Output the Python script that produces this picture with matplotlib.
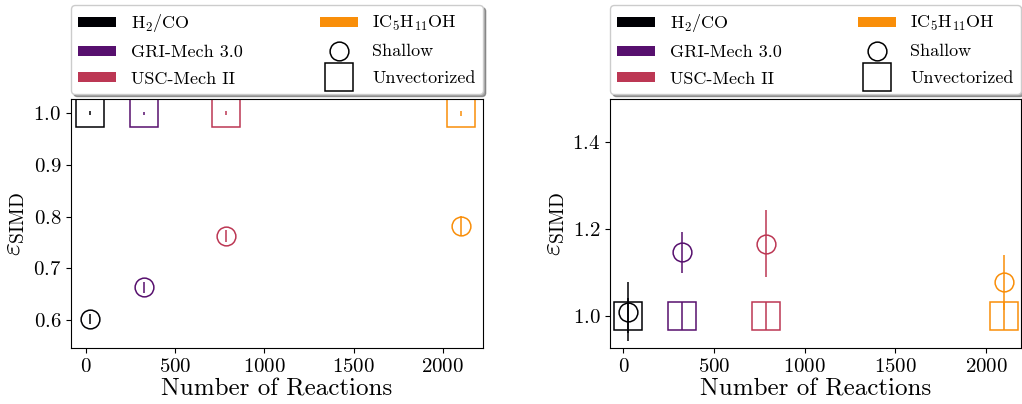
import matplotlib
matplotlib.use("Agg")
import matplotlib.pyplot as plt
from matplotlib.patches import Patch
from matplotlib.lines import Line2D

plt.rcParams['font.family'] = 'serif'
plt.rcParams['font.serif'] = ['cmr10']
plt.rcParams['mathtext.fontset'] = 'cm'
plt.rcParams['axes.formatter.use_mathtext'] = True

mechanisms = [r'H$_2$/CO', 'GRI-Mech 3.0', 'USC-Mech II', r'IC$_5$H$_{11}$OH']
colors = ['#000004', '#57106e', '#bc3754', '#f98e09']
n_reactions = [25, 325, 784, 2100]

# Left panel
left_shallow = [0.602, 0.663, 0.763, 0.782]
left_shallow_err = [0.010, 0.010, 0.012, 0.020]
left_unvec = [1.0, 1.0, 1.0, 1.0]
left_unvec_err = [0.004, 0.003, 0.004, 0.005]

# Right panel
right_shallow = [1.010, 1.146, 1.166, 1.077]
right_shallow_err = [0.067, 0.047, 0.077, 0.064]
right_unvec = [1.0, 1.0, 1.0, 1.0]
right_unvec_err = [0.040, 0.032, 0.032, 0.032]

left_yticks = [0.6, 0.7, 0.8, 0.9, 1.0]
right_yticks = [1.0, 1.2, 1.4]
xticks = [0, 500, 1000, 1500, 2000]

fig = plt.figure(figsize=(10.22, 4.04), dpi=100)
ax1 = fig.add_axes([0.0695, 0.1386, 0.403, 0.617])
ax2 = fig.add_axes([0.597, 0.1386, 0.402, 0.617])

LW = 1.1

def draw(ax, sh, she, uv, uve, ylim, yticks):
    for i in range(len(mechanisms)):
        ax.errorbar(n_reactions[i], uv[i], yerr=uve[i], fmt='s', ms=20.5,
                    mfc='none', mec=colors[i], mew=LW, ecolor=colors[i],
                    elinewidth=LW, capsize=0)
        ax.errorbar(n_reactions[i], sh[i], yerr=she[i], fmt='o', ms=13.5,
                    mfc='none', mec=colors[i], mew=LW, ecolor=colors[i],
                    elinewidth=LW, capsize=0)
    ax.set_ylim(*ylim)
    ax.set_yticks(yticks)
    ax.set_xticks(xticks)
    ax.tick_params(labelsize=15)
    ax.set_xlabel('Number of Reactions', fontsize=18, labelpad=2)
    ax.set_ylabel(r'$\varepsilon_{\mathrm{SIMD}}$', fontsize=20, labelpad=4)
    handles = [Patch(facecolor=c, edgecolor='none') for c in colors]
    handles += [Line2D([], [], ls='none', marker='o', ms=13.5, mfc='none', mec='black', mew=LW),
                Line2D([], [], ls='none', marker='s', ms=20.5, mfc='none', mec='black', mew=LW)]
    labels = mechanisms + ['Shallow', 'Unvectorized']
    ax.legend(handles, labels, loc='lower left', bbox_to_anchor=(0, 1.02, 1, 0.3),
              mode='expand', ncol=2, fontsize=13, shadow=True, handlelength=2.1,
              handleheight=0.5, labelspacing=0.6, borderaxespad=0, fancybox=True,
              framealpha=1)

draw(ax1, left_shallow, left_shallow_err, left_unvec, left_unvec_err, (0.546, 1.028), left_yticks)
ax1.set_xlim(-82, 2224)
draw(ax2, right_shallow, right_shallow_err, right_unvec, right_unvec_err, (0.926, 1.5), right_yticks)
ax2.set_xlim(-73, 2193)

fig.savefig('out.png', dpi=100)
